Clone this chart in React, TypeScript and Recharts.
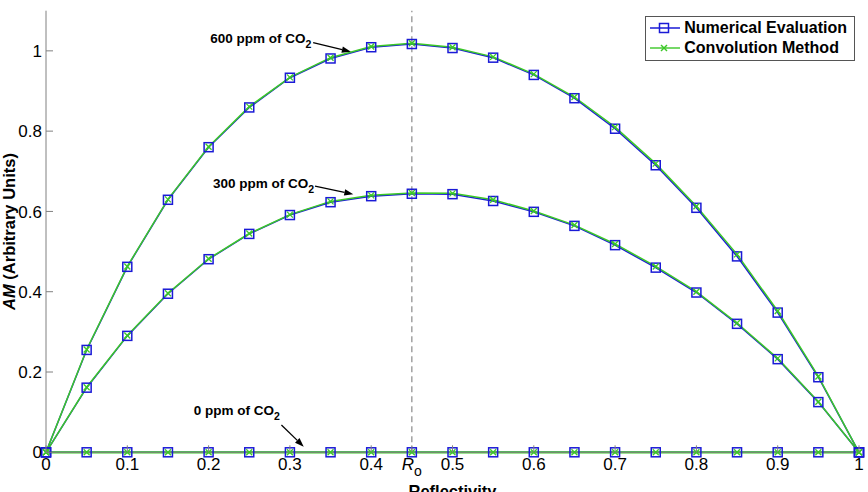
import React from 'react';
import { LineChart, Line, XAxis, YAxis, ReferenceLine, ReferenceDot, Legend } from 'recharts';

// Reflectivity sample points
const reflectivity = [0, 0.05, 0.1, 0.15, 0.2, 0.25, 0.3, 0.35, 0.4, 0.45, 0.5, 0.55, 0.6, 0.65, 0.7, 0.75, 0.8, 0.85, 0.9, 0.95, 1];

// AM for 600 ppm of CO2
const numerical600 = [0, 0.255, 0.462, 0.629, 0.760, 0.859, 0.933, 0.981, 1.009, 1.017, 1.007, 0.983, 0.940, 0.882, 0.806, 0.715, 0.609, 0.488, 0.348, 0.187, 0];
const convolution600 = [0, 0.256, 0.463, 0.630, 0.761, 0.861, 0.934, 0.983, 1.011, 1.019, 1.009, 0.985, 0.942, 0.885, 0.810, 0.719, 0.613, 0.493, 0.352, 0.189, 0];

// AM for 300 ppm of CO2
const numerical300 = [0, 0.161, 0.290, 0.395, 0.481, 0.544, 0.591, 0.623, 0.638, 0.644, 0.643, 0.626, 0.599, 0.564, 0.516, 0.460, 0.398, 0.320, 0.232, 0.125, 0];
const convolution300 = [0, 0.162, 0.291, 0.396, 0.482, 0.545, 0.592, 0.625, 0.640, 0.646, 0.645, 0.629, 0.601, 0.566, 0.519, 0.463, 0.400, 0.322, 0.234, 0.126, 0];

// AM for 0 ppm of CO2
const numerical0 = [0, 0, 0, 0, 0, 0, 0, 0, 0, 0, 0, 0, 0, 0, 0, 0, 0, 0, 0, 0, 0];
const convolution0 = [0, 0, 0, 0, 0, 0, 0, 0, 0, 0, 0, 0, 0, 0, 0, 0, 0, 0, 0, 0, 0];

// Optimum reflectivity R_o
const R_OPTIMUM = 0.45;

const xTicks = [0, 0.1, 0.2, 0.3, 0.4, 0.45, 0.5, 0.6, 0.7, 0.8, 0.9, 1];
const yTicks = [0, 0.2, 0.4, 0.6, 0.8, 1];

// Concentration callouts: label and the point the arrow touches
const calloutLabels = ['600 ppm of CO', '300 ppm of CO', '0 ppm of CO'];
const calloutTips = [[0.375, 0.998], [0.378, 0.643], [0.317, 0.014]];

// Legend entry order
const legendOrder = ['num600', 'conv600'];

const data = reflectivity.map((r, i) => ({
  r,
  num600: numerical600[i],
  conv600: convolution600[i],
  num300: numerical300[i],
  conv300: convolution300[i],
  num0: numerical0[i],
  conv0: convolution0[i],
}));

const FONT = '"Liberation Sans", Arial, Helvetica, sans-serif';
const BLUE = '#1a1ad6';
const GREEN = '#3cc828';
const AXIS = '#808080';
const TICK_LEN = 7;

// offsets (px) of arrow tail and text start relative to the arrow tip
const calloutLayout = [
  { tail: [-37.7, -9], text: [-140.7, -8.7] },
  { tail: [-38.3, -8], text: [-140.3, -5.7] },
  { tail: [-22.3, -21.7], text: [-110, -31.7] },
];

const squareDot = (p: any) => {
  if (p.cx == null || p.cy == null) return <g key={p.index} />;
  return (
    <rect key={p.index} x={p.cx - 4.5} y={p.cy - 4.5} width={9} height={9} fill="none" stroke={BLUE} strokeWidth={1.5} />
  );
};

const crossDot = (p: any) => {
  if (p.cx == null || p.cy == null) return <g key={p.index} />;
  const s = 3;
  return (
    <g key={p.index} stroke={GREEN} strokeWidth={1.3}>
      <line x1={p.cx - s} y1={p.cy - s} x2={p.cx + s} y2={p.cy + s} />
      <line x1={p.cx - s} y1={p.cy + s} x2={p.cx + s} y2={p.cy - s} />
    </g>
  );
};

const BottomTick = (p: any) => {
  const v = p.payload.value;
  const isR = Math.abs(v - R_OPTIMUM) < 1e-9;
  return (
    <g>
      <line x1={p.x} y1={p.y} x2={p.x} y2={p.y - TICK_LEN} stroke={AXIS} />
      {isR ? (
        <text x={p.x} y={p.y + 17.5} textAnchor="middle" fontFamily={FONT} fontSize={17} fill="#000">
          <tspan fontStyle="italic">R</tspan>
          <tspan dy={6} fontSize={14}>o</tspan>
        </text>
      ) : (
        <text x={p.x} y={p.y + 17.5} textAnchor="middle" fontFamily={FONT} fontSize={17} fill="#000">
          {String(v)}
        </text>
      )}
    </g>
  );
};

const LeftTick = (p: any) => (
  <g>
    <line x1={p.x} y1={p.y} x2={p.x + TICK_LEN} y2={p.y} stroke={AXIS} />
    <text x={p.x - 4} y={p.y} dy="0.36em" textAnchor="end" fontFamily={FONT} fontSize={17} fill="#000">
      {String(p.payload.value)}
    </text>
  </g>
);

const TopTick = (p: any) => <line x1={p.x} y1={p.y} x2={p.x} y2={p.y + TICK_LEN} stroke={AXIS} />;
const RightTick = (p: any) => <line x1={p.x} y1={p.y} x2={p.x - TICK_LEN} y2={p.y} stroke={AXIS} />;

const YLabel = (p: any) => {
  const vb = p.viewBox;
  const cx = vb.x + 14.5;
  const cy = vb.y + vb.height / 2;
  return (
    <text
      x={cx}
      y={cy}
      transform={`rotate(-90 ${cx} ${cy})`}
      textAnchor="middle"
      fontFamily={FONT}
      fontSize={16.5}
      fontWeight="bold"
      fill="#000"
    >
      <tspan fontStyle="italic">AM</tspan> (Arbitrary Units)
    </text>
  );
};

const XLabel = (p: any) => {
  const vb = p.viewBox;
  return (
    <text x={vb.x + vb.width / 2} y={vb.y + 45} textAnchor="middle" fontFamily={FONT} fontSize={16.5} fontWeight="bold" fill="#000">
      Reflectivity
    </text>
  );
};

const calloutShape = (i: number) => (p: any) => {
  const { cx, cy } = p;
  const { tail, text } = calloutLayout[i];
  const tx = cx + tail[0];
  const ty = cy + tail[1];
  const ang = Math.atan2(cy - ty, cx - tx);
  const L = 9;
  const W = 3.2;
  const bx = cx - L * Math.cos(ang);
  const by = cy - L * Math.sin(ang);
  const pts = [
    [cx, cy],
    [bx - W * Math.sin(ang), by + W * Math.cos(ang)],
    [bx + W * Math.sin(ang), by - W * Math.cos(ang)],
  ]
    .map((q) => q.join(','))
    .join(' ');
  return (
    <g>
      <line x1={tx} y1={ty} x2={bx} y2={by} stroke="#000" strokeWidth={1.3} />
      <polygon points={pts} fill="#000" />
      <text x={cx + text[0]} y={cy + text[1]} fontFamily={FONT} fontSize={13.5} fontWeight="bold" fill="#000">
        {calloutLabels[i]}
        <tspan dy={5} fontSize={10.5}>2</tspan>
      </text>
    </g>
  );
};

const LegendBox = (props: any) => {
  const entries = (props.payload || [])
    .filter((e: any) => legendOrder.includes(e.dataKey))
    .sort((a: any, b: any) => legendOrder.indexOf(a.dataKey) - legendOrder.indexOf(b.dataKey));
  return (
    <div
      style={{
        border: '1px solid #555',
        background: '#fff',
        padding: '1px 7px 2px 4px',
        fontFamily: FONT,
        fontSize: 16,
        fontWeight: 'bold',
        lineHeight: '20px',
        color: '#000',
        whiteSpace: 'nowrap',
      }}
    >
      {entries.map((e: any) => (
        <div key={e.dataKey} style={{ display: 'flex', alignItems: 'center' }}>
          <svg width={30} height={20} style={{ marginRight: 4 }}>
            {e.dataKey === 'num600' ? (
              <g>
                <line x1={0} y1={10} x2={30} y2={10} stroke={BLUE} strokeWidth={1.5} />
                <rect x={9.5} y={5.5} width={9} height={9} fill="none" stroke={BLUE} strokeWidth={1.5} />
              </g>
            ) : (
              <g stroke={GREEN} strokeWidth={1.4}>
                <line x1={0} y1={10} x2={30} y2={10} />
                <line x1={11} y1={7} x2={17} y2={13} />
                <line x1={11} y1={13} x2={17} y2={7} />
              </g>
            )}
          </svg>
          <span>{e.value}</span>
        </div>
      ))}
    </div>
  );
};

export default function App() {
  return (
    <div style={{ position: 'absolute', left: 0, top: 0, background: '#fff' }}>
      <LineChart width={868} height={492} data={data} margin={{ top: 10.7, right: 9, bottom: 0, left: 0 }}>
        <XAxis
          dataKey="r"
          type="number"
          domain={[0, 1]}
          ticks={xTicks}
          interval={0}
          height={39.7}
          tickSize={0}
          tickMargin={0}
          tick={<BottomTick />}
          axisLine={{ stroke: AXIS }}
          label={{ content: XLabel }}
        />
        <XAxis
          xAxisId="top"
          orientation="top"
          dataKey="r"
          type="number"
          domain={[0, 1]}
          allowDataOverflow
          ticks={xTicks}
          interval={0}
          height={0}
          tickSize={0}
          tickMargin={0}
          tick={<TopTick />}
          axisLine={{ stroke: AXIS }}
        />
        <YAxis
          type="number"
          domain={[0, 1.1]}
          ticks={yTicks}
          interval={0}
          width={46}
          tickSize={0}
          tickMargin={0}
          tick={<LeftTick />}
          axisLine={{ stroke: AXIS }}
          label={{ content: YLabel }}
        />
        <YAxis
          yAxisId="right"
          orientation="right"
          type="number"
          domain={[0, 1.1]}
          allowDataOverflow
          ticks={yTicks}
          interval={0}
          width={0}
          tickSize={0}
          tickMargin={0}
          tick={<RightTick />}
          axisLine={{ stroke: AXIS }}
        />
        <ReferenceLine x={R_OPTIMUM} stroke="#8a8a8a" strokeWidth={1.2} strokeDasharray="6 4" />

        <Line dataKey="num0" stroke={BLUE} strokeWidth={1.5} dot={squareDot} activeDot={false} legendType="none" isAnimationActive={false} />
        <Line dataKey="conv0" stroke={GREEN} strokeWidth={2.2} dot={crossDot} activeDot={false} legendType="none" isAnimationActive={false} />
        <Line dataKey="num300" stroke={BLUE} strokeWidth={1.5} dot={squareDot} activeDot={false} legendType="none" isAnimationActive={false} />
        <Line dataKey="conv300" stroke={GREEN} strokeWidth={1.5} dot={crossDot} activeDot={false} legendType="none" isAnimationActive={false} />
        <Line name="Numerical Evaluation" dataKey="num600" stroke={BLUE} strokeWidth={1.5} dot={squareDot} activeDot={false} isAnimationActive={false} />
        <Line name="Convolution Method" dataKey="conv600" stroke={GREEN} strokeWidth={1.5} dot={crossDot} activeDot={false} isAnimationActive={false} />

        {calloutTips.map((t, i) => (
          <ReferenceDot key={calloutLabels[i]} x={t[0]} y={t[1]} r={0} ifOverflow="visible" shape={calloutShape(i)} />
        ))}

        <Legend
          layout="vertical"
          align="center"
          verticalAlign="middle"
          wrapperStyle={{ top: 16, right: 13, left: 'auto', width: 'auto' }}
          content={LegendBox}
        />
      </LineChart>
    </div>
  );
}
